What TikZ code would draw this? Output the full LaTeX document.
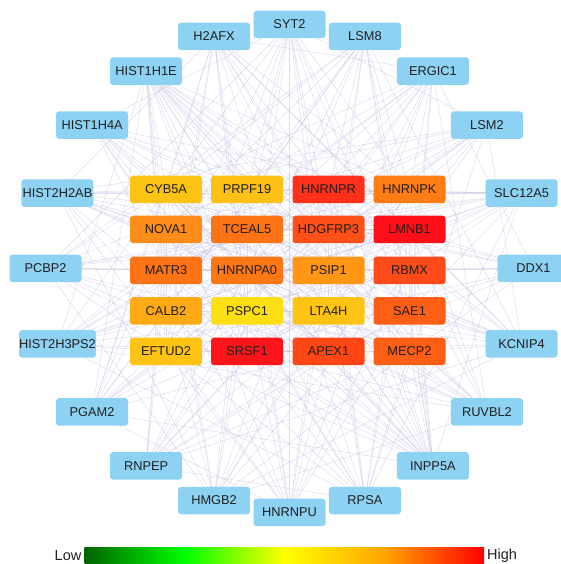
\documentclass[tikz,border=0pt]{standalone}
\usepackage{fontspec}
\setmainfont{Liberation Sans}
\usetikzlibrary{backgrounds}
\definecolor{outerc}{RGB}{141,209,243}
\definecolor{edgec}{RGB}{190,188,225}
\definecolor{cbdg}{RGB}{0,100,0}
\definecolor{cbg}{RGB}{0,255,0}
\definecolor{cby}{RGB}{255,255,0}
\definecolor{cbo}{RGB}{255,165,0}
\definecolor{cbr}{RGB}{255,0,0}
\pgfdeclarehorizontalshading{cbar}{100bp}{color(0bp)=(cbdg); color(25bp)=(cbdg); color(37.5bp)=(cbg); color(50bp)=(cby); color(62.5bp)=(cbo); color(75bp)=(cbr); color(100bp)=(cbr)}
\definecolor{cCYB5A}{RGB}{253,195,20}
\definecolor{cPRPF19}{RGB}{253,192,20}
\definecolor{cHNRNPR}{RGB}{255,48,25}
\definecolor{cHNRNPK}{RGB}{255,125,20}
\definecolor{cNOVA1}{RGB}{254,140,25}
\definecolor{cTCEAL5}{RGB}{254,115,20}
\definecolor{cHDGFRP3}{RGB}{255,80,25}
\definecolor{cLMNB1}{RGB}{255,15,25}
\definecolor{cMATR3}{RGB}{255,115,20}
\definecolor{cHNRNPA0}{RGB}{255,118,20}
\definecolor{cPSIP1}{RGB}{255,150,20}
\definecolor{cRBMX}{RGB}{255,75,25}
\definecolor{cCALB2}{RGB}{255,170,20}
\definecolor{cPSPC1}{RGB}{255,222,20}
\definecolor{cLTA4H}{RGB}{255,195,20}
\definecolor{cSAE1}{RGB}{255,95,20}
\definecolor{cEFTUD2}{RGB}{255,195,20}
\definecolor{cSRSF1}{RGB}{255,20,25}
\definecolor{cAPEX1}{RGB}{255,70,20}
\definecolor{cMECP2}{RGB}{255,95,20}
\tikzset{
  gene/.style={rounded corners=3pt, minimum width=72pt, minimum height=27.5pt, inner sep=0pt,
    font=\fontsize{12.8}{12.8}\selectfont, text=black!88},
  outergene/.style={gene, fill=outerc},
  innergene/.style={gene, fill=c#1},
  link/.style={draw=edgec, line width=0.5pt, opacity=0.5},
  legendtext/.style={inner sep=0pt, font=\fontsize{14.5}{14.5}\selectfont, text=black!88},
}
\begin{document}
\begin{tikzpicture}[x=1pt,y=1pt]
\useasboundingbox (0,0) rectangle (561,564);
% outer ring
\begin{scope}[shift={(289.5,295.5)}]
\foreach \n [count=\k from 0] in {SYT2,H2AFX,HIST1H1E,HIST1H4A,HIST2H2AB,PCBP2,HIST2H3PS2,PGAM2,RNPEP,HMGB2,HNRNPU,RPSA,INPP5A,RUVBL2,KCNIP4,DDX1,SLC12A5,LSM2,ERGIC1,LSM8}
  \node[outergene] (\n) at ({90+18*\k}:244) {\n};
\end{scope}
% inner grid
\foreach \n/\x/\y in {CYB5A/166/374.5, PRPF19/247/374.5, HNRNPR/328.5/374.5, HNRNPK/409.5/374.5,
  NOVA1/166/334.5, TCEAL5/247/334.5, HDGFRP3/328.5/334.5, LMNB1/409.5/334.5,
  MATR3/166/293.5, HNRNPA0/247/293.5, PSIP1/328.5/293.5, RBMX/409.5/293.5,
  CALB2/166/253, PSPC1/247/253, LTA4H/328.5/253, SAE1/409.5/253,
  EFTUD2/166/212.5, SRSF1/247/212.5, APEX1/328.5/212.5, MECP2/409.5/212.5}
  \node[innergene=\n] (\n) at (\x,\y) {\n};
% edges
\begin{scope}[on background layer]
\foreach \a [count=\i] in {SYT2,H2AFX,HIST1H1E,HIST1H4A,HIST2H2AB,PCBP2,HIST2H3PS2,PGAM2,RNPEP,HMGB2,HNRNPU,RPSA,INPP5A,RUVBL2,KCNIP4,DDX1,SLC12A5,LSM2,ERGIC1,LSM8}{
  \foreach \b [count=\j] in {CYB5A,PRPF19,HNRNPR,HNRNPK,NOVA1,TCEAL5,HDGFRP3,LMNB1,MATR3,HNRNPA0,PSIP1,RBMX,CALB2,PSPC1,LTA4H,SAE1,EFTUD2,SRSF1,APEX1,MECP2}{
    \pgfmathtruncatemacro\r{mod(\i*7+\j*11+\i*\j*3,10)}
    \ifnum\r<6 \draw[link] (\a.center) -- (\b.center);\fi
  }
  \foreach \b [count=\j] in {SYT2,H2AFX,HIST1H1E,HIST1H4A,HIST2H2AB,PCBP2,HIST2H3PS2,PGAM2,RNPEP,HMGB2,HNRNPU,RPSA,INPP5A,RUVBL2,KCNIP4,DDX1,SLC12A5,LSM2,ERGIC1,LSM8}{
    \ifnum\j>\i
      \pgfmathtruncatemacro\r{mod(\i*5+\j*3+\i*\j,7)}
      \ifnum\r<2 \draw[link] (\a.center) -- (\b.center);\fi
    \fi
  }
}
\foreach \a [count=\i] in {CYB5A,PRPF19,HNRNPR,HNRNPK,NOVA1,TCEAL5,HDGFRP3,LMNB1,MATR3,HNRNPA0,PSIP1,RBMX,CALB2,PSPC1,LTA4H,SAE1,EFTUD2,SRSF1,APEX1,MECP2}{
  \foreach \b [count=\j] in {CYB5A,PRPF19,HNRNPR,HNRNPK,NOVA1,TCEAL5,HDGFRP3,LMNB1,MATR3,HNRNPA0,PSIP1,RBMX,CALB2,PSPC1,LTA4H,SAE1,EFTUD2,SRSF1,APEX1,MECP2}{
    \ifnum\j>\i
      \pgfmathtruncatemacro\r{mod(\i*3+\j*5+\i*\j*2,9)}
      \ifnum\r<2 \draw[link] (\a.center) -- (\b.center);\fi
    \fi
  }
}
\end{scope}
% colour bar
\node[minimum width=399.5pt, minimum height=15.5pt, inner sep=0pt, shading=cbar] (bar) at (284.25,8.25) {};
\node[legendtext, anchor=east] (low) at (81.5,8) {Low};
\node[legendtext, anchor=west] (high) at (487,8) {High};
\end{tikzpicture}
\end{document}
